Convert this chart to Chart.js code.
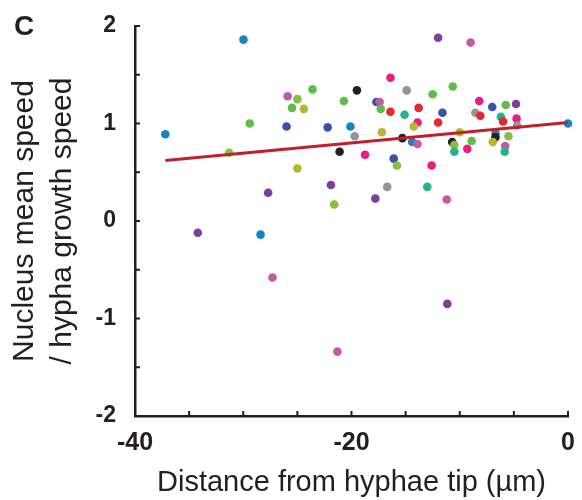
<!DOCTYPE html>
<html>
<head>
<meta charset="utf-8">
<script src="https://cdn.jsdelivr.net/npm/chart.js@4.4.1/dist/chart.umd.min.js"></script>
<style>
  body { margin: 0; background: #fff; }
  #wrap { width: 582px; height: 500px; }
</style>
</head>
<body>
<div id="wrap"><canvas id="chart" width="582" height="500"></canvas></div>
<script>
// Distance from tip (µm), speed ratio, and colour group of each nucleus
const distance = [-29.98, -25.9, -25.0, -23.6, -25.5, -24.4, -20.7, -29.4, -26.0, -22.2,
  -20.1, -37.2, -31.3, -21.1, -25.0, -21.9, -27.7, -21.6, -12.0, -9.0,
  -16.4, -19.5, -14.9, -12.5, -10.65, -17.7, -17.4, -17.3, -16.4, -15.1,
  -13.8, -11.6, -13.9, -14.25, -12.0, -8.2, -7.0, -5.75, -4.8, -8.55,
  -8.1, -6.2, -6.0, -4.75, -4.7, 0, -17.2, -19.7, -15.3, -14.4,
  -13.9, -10.0, -10.7, -10.5, -8.9, -9.3, -10.5, -6.7, -6.7, -6.95,
  -5.5, -5.8, -5.85, -18.75, -16.1, -15.8, -12.6, -16.7, -13.0, -17.8,
  -11.2, -34.2, -28.4, -27.3, -21.3, -11.15];
const speedRatio = [1.86, 1.28, 1.25, 1.35, 1.16, 1.15, 1.23, 1.00, 0.97, 0.96,
  0.97, 0.89, 0.70, 0.71, 0.54, 0.37, 0.29, 0.17, 1.88, 1.83,
  1.47, 1.34, 1.34, 1.30, 1.38, 1.22, 1.22, 1.15, 1.12, 1.09,
  1.16, 1.11, 1.01, 0.97, 1.01, 1.23, 1.17, 1.19, 1.20, 1.11,
  1.08, 1.07, 1.02, 1.05, 0.98, 1.00, 0.91, 0.87, 0.85, 0.81,
  0.79, 0.91, 0.81, 0.78, 0.82, 0.74, 0.71, 0.90, 0.86, 0.81,
  0.87, 0.77, 0.71, 0.68, 0.64, 0.57, 0.57, 0.35, 0.35, 0.23,
  0.22, -0.12, -0.14, -0.58, -1.34, -0.85];
const group = ['blue', 'magenta', 'olive', 'green', 'green', 'yellow', 'green', 'green', 'navy', 'navy',
  'blue', 'blue', 'olive', 'black', 'yellow', 'purple', 'purple', 'olive', 'purple', 'magenta',
  'pink', 'black', 'gray', 'green', 'green', 'navy', 'magenta', 'green', 'red', 'teal',
  'red', 'navy', 'pink', 'yellow', 'red', 'pink', 'navy', 'green', 'purple', 'gray',
  'red', 'teal', 'red', 'pink', 'gray', 'blue', 'yellow', 'gray', 'black', 'blue',
  'magenta', 'yellow', 'black', 'olive', 'green', 'pink', 'teal', 'blue', 'black', 'yellow',
  'olive', 'magenta', 'teal', 'pink', 'navy', 'olive', 'pink', 'gray', 'teal', 'purple',
  'magenta', 'purple', 'blue', 'magenta', 'magenta', 'purple'];

// Linear fit (end points)
const fitX = [-37.2, 0];
const fitY = [0.62, 1.01];

const xTicks = [-40, -20, 0];
const yTicks = [-2, -1, 0, 1, 2];

const palette = {
  blue: '#1785c1', navy: '#3953a4', green: '#5cbd4b', olive: '#8bbd40',
  yellow: '#b9b532', magenta: '#c25aa8', pink: '#ec1b80', red: '#e8262b',
  teal: '#22b48a', purple: '#7b3f9c', black: '#231f20', gray: '#939598'
};

const FONT = "'Liberation Sans', Arial, sans-serif";
const INK = '#231f20';

// Petites graduations vers l'intérieur + la lettre du panneau
const extras = {
  id: 'extras',
  afterDraw(chart) {
    const ctx = chart.ctx;
    const x = chart.scales.x, y = chart.scales.y;
    ctx.save();
    ctx.strokeStyle = INK;
    ctx.lineWidth = 2;
    for (let v = -40; v <= 0; v += 5) {
      const px = x.getPixelForValue(v);
      ctx.beginPath();
      ctx.moveTo(px, y.bottom);
      ctx.lineTo(px, y.bottom - 5);
      ctx.stroke();
    }
    for (let v = -2; v <= 2; v += 0.5) {
      const py = y.getPixelForValue(v);
      ctx.beginPath();
      ctx.moveTo(x.left, py);
      ctx.lineTo(x.left + 5, py);
      ctx.stroke();
    }
    ctx.fillStyle = INK;
    ctx.font = 'bold 28px ' + FONT;
    ctx.textBaseline = 'alphabetic';
    ctx.fillText('C', 14, 35);
    ctx.restore();
  }
};

// pas de marge automatique pour les étiquettes : la zone du graphe est fixée à la main
function noPad(s) {
  s.paddingLeft = 0; s.paddingRight = 0; s.paddingTop = 0; s.paddingBottom = 0;
}

const points = distance.map((d, i) => ({ x: d, y: speedRatio[i] }));
const fitLine = fitX.map((d, i) => ({ x: d, y: fitY[i] }));

new Chart(document.getElementById('chart'), {
  type: 'scatter',
  data: {
    datasets: [
      {
        label: 'fit',
        data: fitLine,
        showLine: true,
        borderColor: '#c01f2e',
        borderWidth: 3,
        pointRadius: 0,
        order: 0
      },
      {
        label: 'nuclei',
        data: points,
        pointBackgroundColor: group.map(g => palette[g]),
        pointBorderWidth: 0,
        pointRadius: 4.3,
        clip: false,
        order: 1
      }
    ]
  },
  options: {
    responsive: false,
    animation: false,
    layout: { padding: { left: 0, right: 14, top: 26, bottom: 0 } },
    plugins: { legend: { display: false }, tooltip: { enabled: false } },
    scales: {
      x: {
        type: 'linear',
        min: -40, max: 0,
        afterBuildTicks: s => { s.ticks = xTicks.map(v => ({ value: v })); },
        afterFit: s => { s.height = 84; noPad(s); },
        grid: { display: false, drawTicks: false },
        border: { display: true, color: INK, width: 2.5 },
        ticks: { color: INK, padding: 12, maxRotation: 0, font: { family: FONT, size: 25, weight: 'bold' } },
        title: {
          display: true,
          text: 'Distance from hyphae tip (µm)',
          color: INK,
          padding: { top: 0, bottom: 0 },
          font: { family: FONT, size: 29 }
        }
      },
      y: {
        type: 'linear',
        min: -2, max: 2,
        afterBuildTicks: s => { s.ticks = yTicks.map(v => ({ value: v })); },
        afterFit: s => { s.width = 135; noPad(s); },
        grid: { display: false, drawTicks: false },
        border: { display: true, color: INK, width: 2.5 },
        ticks: { color: INK, padding: 19, font: { family: FONT, size: 23, weight: 'bold' } },
        title: {
          display: true,
          text: ['Nucleus mean speed', '/ hypha growth speed'],
          color: INK,
          padding: { top: 6, bottom: 0 },
          font: { family: FONT, size: 30, lineHeight: 1.27 }
        }
      }
    }
  },
  plugins: [extras]
});
</script>
</body>
</html>
